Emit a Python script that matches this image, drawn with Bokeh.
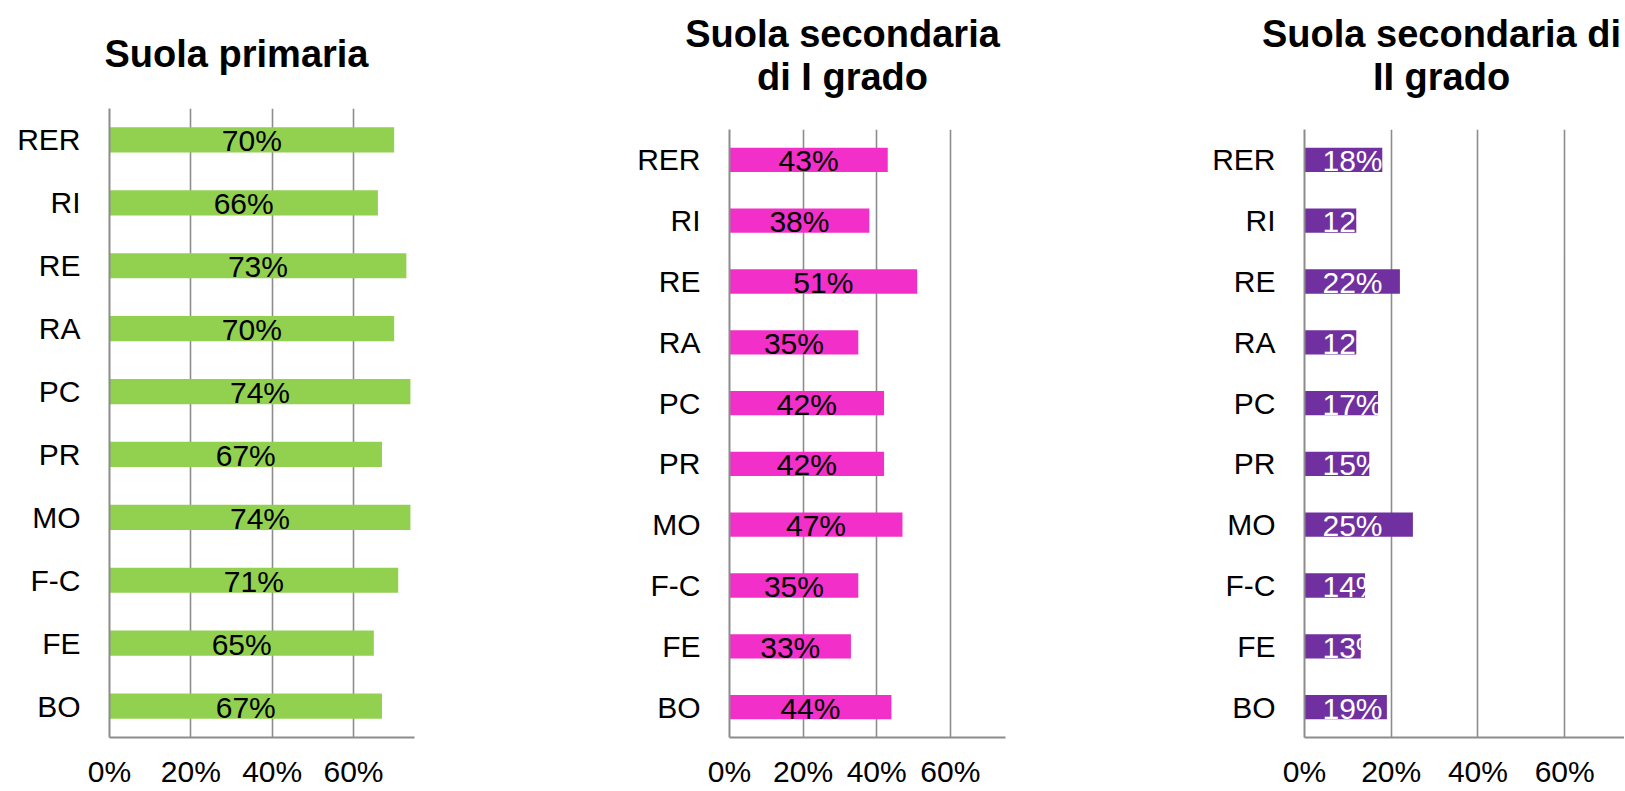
from bokeh.plotting import figure
from bokeh.models import FactorRange, Range1d, FixedTicker, ColumnDataSource
from bokeh.layouts import row, column
from bokeh.embed import file_html
from bokeh.resources import INLINE
from bokeh.core.properties import value

# ---- data ----
provinces = ["RER", "RI", "RE", "RA", "PC", "PR", "MO", "F-C", "FE", "BO"]
primaria = [70, 66, 73, 70, 74, 67, 74, 71, 65, 67]
secondaria_1 = [43, 38, 51, 35, 42, 42, 47, 35, 33, 44]
secondaria_2 = [18, 12, 22, 12, 17, 15, 25, 14, 13, 19]
tick_values = [0, 20, 40, 60]
tick_labels = ["0%", "20%", "40%", "60%"]
title_lines = [["Suola primaria"],
               ["Suola secondaria", "di I grado"],
               ["Suola secondaria di", "II grado"]]
bar_colors = ["#92D050", "#F32FCA", "#7030A0"]

FONT = "Liberation Sans"
GRAY = "#8C8C8C"
LABEL_SIZE = "30px"
TITLE_H = 100


def make_title(lines, width, center_x, baselines):
    t = figure(width=width, height=TITLE_H, x_range=Range1d(0, width),
               y_range=Range1d(TITLE_H, 0), min_border=0,
               x_axis_location=None, y_axis_location=None,
               output_backend="svg", toolbar_location=None)
    t.frame_align = False
    t.outline_line_color = None
    t.grid.visible = False
    src = ColumnDataSource(dict(x=[center_x] * len(lines), y=baselines, txt=lines))
    t.text(x="x", y="y", text="txt", source=src, text_align="center",
           text_baseline="alphabetic", text_color="black",
           text_font=value(FONT), text_font_size=value("38px"),
           text_font_style="bold")
    return t


def make_panel(vals, color, width, height, left, right, top, bottom,
               xmax, inside_base=False):
    factors = list(reversed(provinces))
    p = figure(y_range=FactorRange(factors=factors), x_range=Range1d(0, xmax),
               width=width, height=height,
               min_border_left=left, min_border_right=right,
               min_border_top=top, min_border_bottom=bottom,
               output_backend="svg", toolbar_location=None)
    p.frame_align = False
    p.outline_line_color = None
    p.background_fill_color = "white"
    p.border_fill_color = "white"

    labels = ["%d%%" % v for v in vals]
    src = ColumnDataSource(dict(
        cat=provinces, val=vals, mid=[v / 2 for v in vals], lab=labels,
        zero=[0] * len(vals),
        cover_r=[max(v, 18.3) for v in vals],
    ))
    p.hbar(y="cat", left=0, right="val", height=0.4, source=src,
           fill_color=color, line_color=None)
    if inside_base:
        p.text(x="zero", y="cat", text="lab", source=src, x_offset=18, y_offset=1,
               text_align="left", text_baseline="middle", text_color="white",
               text_font=value(FONT), text_font_size=value(LABEL_SIZE))
        # labels are clipped at the bar end, as in the original rendering
        p.hbar(y="cat", left="val", right="cover_r", height=0.5, source=src,
               fill_color="white", line_color=None)
    else:
        p.text(x="mid", y="cat", text="lab", source=src, y_offset=1,
               text_align="center", text_baseline="middle", text_color="black",
               text_font=value(FONT), text_font_size=value(LABEL_SIZE))

    p.xaxis.ticker = FixedTicker(ticks=tick_values)
    p.xaxis.major_label_overrides = dict(zip(tick_values, tick_labels))
    p.xgrid.ticker = FixedTicker(ticks=tick_values)
    p.xgrid.grid_line_color = GRAY
    p.xgrid.grid_line_width = 1.6
    p.ygrid.grid_line_color = None
    for ax in (p.xaxis, p.yaxis):
        ax.axis_line_color = GRAY
        ax.axis_line_width = 2
        ax.major_tick_line_color = None
        ax.minor_tick_line_color = None
        ax.major_tick_out = 0
        ax.major_tick_in = 0
        ax.minor_tick_out = 0
        ax.major_label_text_font = FONT
        ax.major_label_text_font_size = LABEL_SIZE
        ax.major_label_text_color = "black"
    p.xaxis.major_label_standoff = 17
    p.yaxis.major_label_standoff = 29
    return p


H = 790 - TITLE_H
t1 = make_title(title_lines[0], 600, 236, [53])
t2 = make_title(title_lines[1], 580, 242, [33, 76])
t3 = make_title(title_lines[2], 444, 261, [33, 76])
p1 = make_panel(primaria, bar_colors[0], 600, H, 109, 186, 8, 51, 75)
p2 = make_panel(secondaria_1, bar_colors[1], 580, H, 129, 175, 29, 50, 75)
p3 = make_panel(secondaria_2, bar_colors[2], 444, H, 124, 0, 29, 50, 73.8,
                inside_base=True)

layout = row(column(t1, p1, spacing=0), column(t2, p2, spacing=0),
             column(t3, p3, spacing=0), spacing=0)
open("out.html", "w").write(file_html(layout, INLINE))
